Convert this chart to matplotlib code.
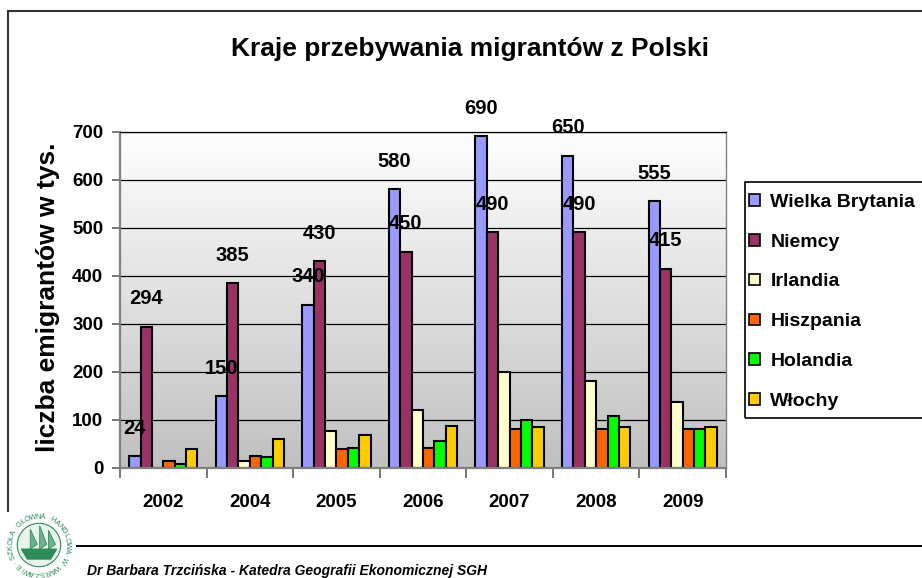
import numpy as np
import matplotlib
matplotlib.use("Agg")
import matplotlib.pyplot as plt
from matplotlib.colors import LinearSegmentedColormap
from matplotlib.patches import Patch, Rectangle, Circle, Polygon
from matplotlib.lines import Line2D

plt.rcParams['font.family'] = ['Liberation Sans', 'DejaVu Sans']

years = ["2002", "2004", "2005", "2006", "2007", "2008", "2009"]
countries = ["Wielka Brytania", "Niemcy", "Irlandia", "Hiszpania", "Holandia", "Włochy"]
wielka_brytania = [24, 150, 340, 580, 690, 650, 555]
niemcy = [294, 385, 430, 450, 490, 490, 415]
irlandia = [0, 14, 78, 121, 200, 180, 138]
hiszpania = [14, 26, 40, 42, 82, 82, 82]
holandia = [8, 22, 42, 56, 100, 108, 82]
wlochy = [40, 60, 69, 87, 86, 86, 86]
series = [wielka_brytania, niemcy, irlandia, hiszpania, holandia, wlochy]
labelled = [0, 1]  # series with value labels
colors = ["#9999FF", "#993366", "#FFFFCC", "#FF6600", "#00FF00", "#FFCC00"]
y_ticks = [0, 100, 200, 300, 400, 500, 600, 700]

W, H = 922, 578
fig = plt.figure(figsize=(W / 100, H / 100), dpi=100)
fig.patch.set_facecolor("white")

def fx(px):
    return px / W

def fy(py):
    return 1 - py / H

ax = fig.add_axes([fx(120), fy(468), fx(726) - fx(120), fy(131.5) - fy(468)])
n = len(years)
x = np.arange(n)
ax.set_xlim(-0.5, n - 0.5)
ax.set_ylim(0, 700)

# gradient background
cmap = LinearSegmentedColormap.from_list("bg", ["#FFFFFF", "#C0C0C0"])
ax.imshow(np.linspace(0, 1, 256).reshape(-1, 1), extent=[-0.5, n - 0.5, 0, 700],
          aspect="auto", cmap=cmap, origin="upper", zorder=-2)

ax.set_yticks(y_ticks)
ax.yaxis.grid(True, color="black", lw=0.9, zorder=0.5)
ax.set_axisbelow(True)

bw = 0.1316
for k, (vals, col) in enumerate(zip(series, colors)):
    xs = x + (k - 2.5) * bw
    ax.bar(xs, vals, width=bw, color=col, edgecolor="black", linewidth=1.5, zorder=2)
    if k in labelled:
        for xi, v in zip(xs, vals):
            ax.annotate(str(v), (xi, v), xytext=(0, 20), textcoords="offset points",
                        ha="center", va="center", fontsize=14.5, fontweight="bold",
                        zorder=5, annotation_clip=False)

# axes styling
for s in ["left", "bottom", "right"]:
    ax.spines[s].set_color("#808080")
ax.spines["left"].set_linewidth(1.6)
ax.spines["bottom"].set_linewidth(1.6)
ax.spines["right"].set_linewidth(1.0)
ax.spines["top"].set_color("black")
ax.spines["top"].set_linewidth(0.9)

ax.set_xticks(x)
ax.set_xticklabels(years, fontsize=13.5, fontweight="bold")
ax.set_xticks(np.arange(-0.5, n, 1.0), minor=True)
ax.tick_params(axis="x", which="major", length=0, pad=19)
ax.tick_params(axis="x", which="minor", length=7, width=1.2, color="#606060", direction="out")
ax.tick_params(axis="y", length=6, width=1.2, color="#606060", pad=6, labelsize=13.5)
for t in ax.get_yticklabels():
    t.set_fontweight("bold")

fig.text(fx(48), fy(297), "liczba emigrantów w tys.", rotation=90, ha="center", va="center",
         fontsize=19, fontweight="bold")

fig.text(fx(470), fy(49), "Kraje przebywania migrantów z Polski", ha="center", va="center",
         fontsize=19, fontweight="bold")

# legend
handles = [Patch(facecolor=c, edgecolor="black", linewidth=1.2) for c in colors]
fig.legend(handles, countries, loc="upper left", bbox_to_anchor=(fx(749), fy(194)),
           frameon=False, handlelength=0.55, handleheight=0.55, handletextpad=0.55,
           labelspacing=1.17, prop={"weight": "bold", "size": 14}, borderaxespad=0,
           borderpad=0)
fig.add_artist(Rectangle((fx(745), fy(418)), fx(935) - fx(745), fy(182) - fy(418),
                         transform=fig.transFigure, fill=False, edgecolor="black", lw=1.2))

# outer frame lines
fig.add_artist(Line2D([fx(8), fx(930)], [fy(11), fy(11)], transform=fig.transFigure,
                      color="#333333", lw=1.5))
fig.add_artist(Line2D([fx(8), fx(8)], [fy(11), fy(511)], transform=fig.transFigure,
                      color="#333333", lw=1.5))

# footer
fig.add_artist(Line2D([fx(77), fx(922)], [fy(546), fy(546)], transform=fig.transFigure,
                      color="black", lw=1.4))
fig.text(fx(87), fy(571), "Dr Barbara Trzcińska - Katedra Geografii Ekonomicznej SGH",
         ha="left", va="center", fontsize=10, fontweight="bold", style="italic")

# logo (approximation)
green = "#2E8B5A"
lax = fig.add_axes([fx(4), fy(580), fx(74) - fx(4), fy(510) - fy(580)])
lax.set_xlim(-1, 1)
lax.set_ylim(-1, 1)
lax.set_aspect("equal")
lax.axis("off")
ring = "SZKOŁA·GŁÓWNA·HANDLOWA·W·WARSZAWIE·"
angles = np.linspace(205, 205 - 360, len(ring), endpoint=False)
for ch, a in zip(ring, angles):
    r = np.deg2rad(a)
    lax.text(0.8 * np.cos(r), 0.8 * np.sin(r), ch, rotation=a - 90, ha="center",
             va="center", fontsize=5.5, color=green)
lax.add_patch(Circle((0, 0), 0.62, facecolor="#E8F3EC", edgecolor=green, lw=0.8))
lax.add_patch(Polygon([[-0.5, -0.12], [0.5, -0.12], [0.33, -0.4], [-0.33, -0.4]],
                      closed=True, facecolor=green, edgecolor=green))
for mx, top in [(-0.25, 0.45), (0.02, 0.55), (0.27, 0.42)]:
    lax.add_patch(Polygon([[mx, -0.12], [mx, top], [mx + 0.2, 0.02]], closed=True,
                          facecolor="#6FB38C", edgecolor=green, lw=0.6))

fig.savefig("out.png", dpi=100)
